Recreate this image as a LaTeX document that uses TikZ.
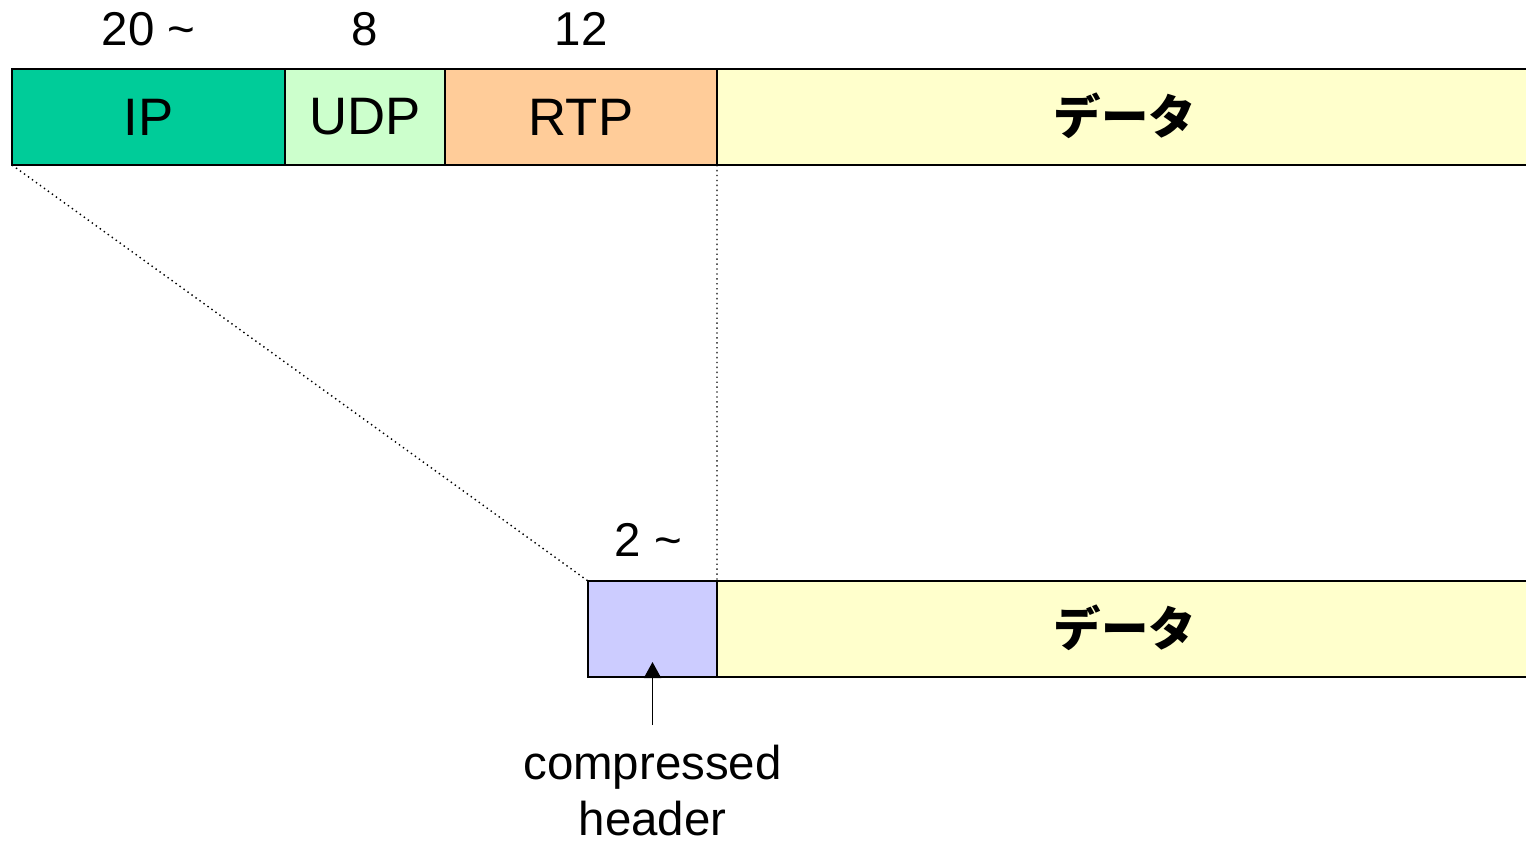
\documentclass[tikz,border=0pt]{standalone}
\usepackage{fontspec}
\setmainfont{Liberation Sans}
\newfontfamily\jafont{Noto Sans CJK JP}
\usetikzlibrary{positioning}
\usetikzlibrary{arrows.meta}

\definecolor{ipcol}{HTML}{00CC99}
\definecolor{udpcol}{HTML}{CCFFCC}
\definecolor{rtpcol}{HTML}{FFCC99}
\definecolor{datacol}{HTML}{FFFFCC}
\definecolor{compcol}{HTML}{CCCCFF}

\begin{document}
\begin{tikzpicture}[
    field/.style={draw, line width=1.1pt, minimum height=1.92cm, inner sep=0pt,
      outer sep=0pt, font=\fontsize{30}{36}\selectfont},
    datatext/.style={font=\fontsize{27}{32}\jafont\bfseries, text depth=0.12cm},
    size/.style={inner sep=0pt, font=\fontsize{27}{32}\selectfont},
    zoomline/.style={dotted, line width=0.8pt},
  ]
    \useasboundingbox (0,0) rectangle (30.52,-16.92);
    \clip (0,0) rectangle (30.52,-16.92);

    % full header
    \node[field, fill=ipcol, minimum width=5.46cm, anchor=north west] (ip) at (0.24,-1.38) {IP};
    \node[field, fill=udpcol, minimum width=3.2cm, right=0pt of ip] (udp) {UDP};
    \node[field, fill=rtpcol, minimum width=5.44cm, right=0pt of udp] (rtp) {RTP};
    \node[field, datatext, fill=datacol, minimum width=16.32cm, right=0pt of rtp] (data) {データ};

    \node[size, above=0.46cm of ip] (ipsize) {20 \textasciitilde};
    \node[size, above=0.46cm of udp] (udpsize) {8};
    \node[size, above=0.46cm of rtp] (rtpsize) {12};

    % compressed header
    \node[field, fill=compcol, minimum width=2.58cm, anchor=north west] (comp) at (11.76,-11.62) {};
    \node[field, datatext, fill=datacol, minimum width=16.32cm, right=0pt of comp] (cdata) {データ};
    \node[size, above=0.48cm of comp, xshift=-0.08cm] (compsize) {2 \textasciitilde};

    \draw[zoomline] (ip.south west) -- (comp.north west);
    \draw[zoomline] (rtp.south east) -- (comp.north east);

    \node[size, align=center, below=1.36cm of comp] (note) {compressed\\header};
    \coordinate (tail) at ([yshift=0.4cm]note.north);
    \draw[line width=1.1pt, -{Triangle[length=0.32cm, width=0.34cm]}] (tail) -- ([yshift=0.3cm]comp.south);
\end{tikzpicture}
\end{document}
